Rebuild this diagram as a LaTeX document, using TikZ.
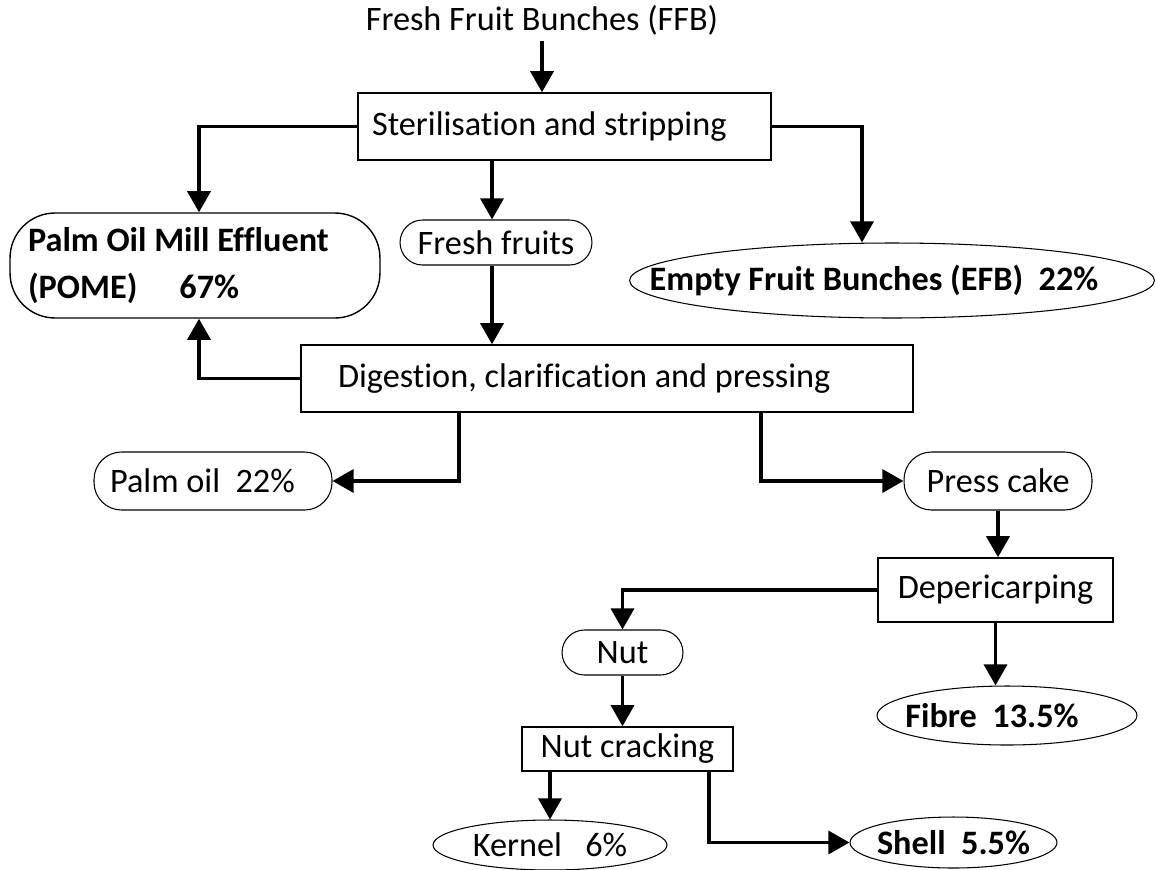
\documentclass[tikz,border=0pt]{standalone}
\usepackage{fontspec}
\setmainfont{Carlito}[Ligatures=NoCommon]
\usetikzlibrary{arrows.meta,shapes.geometric,positioning}

\tikzset{
  every node/.style={font=\fontsize{19.5}{23}\selectfont},
  stagebox/.style={draw, line width=0.8pt, rectangle, inner sep=0pt},
  pill/.style={draw, line width=0.6pt, rectangle, rounded corners=0.45cm, inner sep=0pt},
  yield/.style={draw, line width=0.6pt, ellipse, inner sep=0pt, font=\fontsize{19.5}{23}\selectfont\bfseries},
  flow/.style={line width=2.2pt, -{Triangle[width=13pt,length=12pt]}},
}

\begin{document}
\begin{tikzpicture}[x=0.02cm,y=-0.02cm]
  \useasboundingbox (0,0) rectangle (1155,869);

  \node (ffb) at (542,20) {Fresh Fruit Bunches (FFB)};
  \node[stagebox, minimum width=8.26cm, minimum height=1.34cm, text width=7.7cm, inner xsep=0.28cm, align=flush left]
    (steril) at (564.5,126.5) {Sterilisation and stripping};
  \node[draw, line width=0.8pt, rounded corners=0.9cm, minimum width=7.4cm, minimum height=2.1cm,
        text width=6.68cm, inner xsep=0.36cm, align=flush left, font=\fontsize{19.5}{26.5}\selectfont\bfseries]
    (pome) at (195,265.5) {Palm Oil Mill Effluent\\(POME)\quad\ 67\%};
  \node[pill, minimum width=3.84cm, minimum height=0.9cm] (fresh) at (496,242.5) {Fresh fruits};
  \node[yield, minimum width=10.5cm, minimum height=1.5cm] (efb) at (892,280.5)
    {\hspace*{-0.36cm}\makebox[0pt]{Empty Fruit Bunches (EFB)\ \ 22\%}\hspace*{0.36cm}};
  \node[stagebox, minimum width=12.24cm, minimum height=1.34cm, text width=10.76cm, inner xsep=0.74cm, align=flush left]
    (digest) at (607,378.5) {Digestion, clarification and pressing};
  \node[pill, rounded corners=0.55cm, minimum width=4.76cm, minimum height=1.16cm, text width=4.12cm,
        inner xsep=0.32cm, align=flush left] (palmoil) at (213,481) {Palm oil\ \ 22\%};
  \node[pill, rounded corners=0.55cm, minimum width=3.76cm, minimum height=1.16cm] (presscake) at (998,481) {Press cake};
  \node[stagebox, minimum width=4.7cm, minimum height=1.28cm] (deperi) at (995.5,590) {Depericarping};
  \node[pill, minimum width=2.42cm, minimum height=0.9cm] (nut) at (622.5,652.5) {Nut};
  \node[yield, minimum width=5.2cm, minimum height=1.18cm] (fibre) at (1007,715.5)
    {\hspace*{-0.3cm}\makebox[0pt]{Fibre\ \ 13.5\%}\hspace*{0.3cm}};
  \node[stagebox, minimum width=4.22cm, minimum height=0.88cm] (crack) at (627.5,749) {Nut cracking};
  \node[ellipse, draw, line width=0.6pt, inner sep=0pt, minimum width=4.68cm, minimum height=1.0cm]
    (kernel) at (550,845) {\makebox[0pt]{Kernel\ \ \ 6\%}};
  \node[yield, minimum width=4.14cm, minimum height=1.02cm] (shell) at (953.5,842.5) {\makebox[0pt]{Shell\ \ 5.5\%}};

  \draw[flow] (ffb.south) -- (ffb.south |- steril.north);
  \draw[flow] (steril.west) -| ([xshift=0.08cm]pome.north);
  \draw[flow] ([xshift=-0.08cm]fresh.north |- steril.south) -- ([xshift=-0.08cm]fresh.north);
  \draw[flow] (steril.east) -| ([xshift=-0.6cm]efb.north);
  \draw[flow] ([xshift=-0.08cm]fresh.south) -- ([xshift=-0.08cm]fresh.south |- digest.north);
  \draw[flow] (digest.west) -| ([xshift=0.08cm]pome.south);
  \draw[flow] ([xshift=-2.96cm]digest.south) |- (palmoil.east);
  \draw[flow] ([xshift=3.08cm]digest.south) |- (presscake.west);
  \draw[flow] (presscake.south) -- (presscake.south |- deperi.north);
  \draw[flow] (deperi.west) -| (nut.north);
  \draw[flow] (deperi.south) -- (deperi.south |- fibre.north);
  \draw[flow] (nut.south) -- (nut.south |- crack.north);
  \draw[flow] (crack.south -| kernel.north) -- (kernel.north);
  \draw[flow] ([xshift=1.63cm]crack.south) |- (shell.west);
\end{tikzpicture}
\end{document}
